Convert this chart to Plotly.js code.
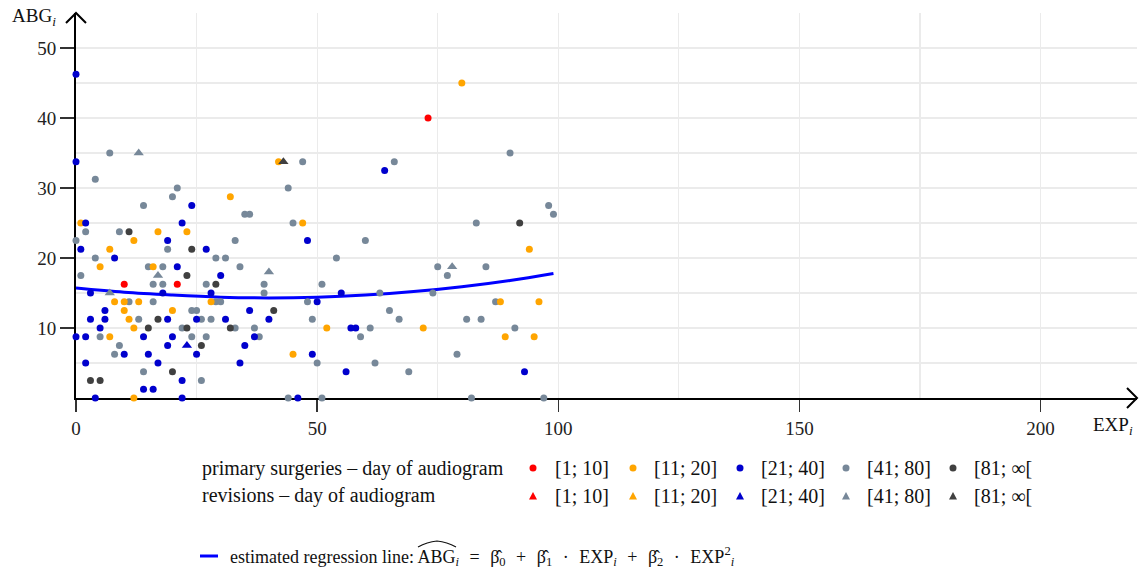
<!DOCTYPE html>
<html>
<head>
<meta charset="utf-8">
<script src="https://cdn.plot.ly/plotly-3.0.1.min.js"></script>
<style>html,body{margin:0;padding:0;background:#fff;}#chart{width:1142px;height:572px;}</style>
</head>
<body>
<div id="chart"></div>
<script>
// ---------------- data ----------------
// primary surgeries, day of audiogram [1; 10]
var p1_x = [10, 21, 73];
var p1_y = [16.25, 16.25, 40];
// primary [11; 20]
var p2_x = [1, 5, 7, 12, 16, 17, 23, 8, 10, 13, 10, 20, 11, 12, 7, 12, 28, 32, 42, 47, 45, 52, 72, 80, 88, 96, 89, 95, 94];
var p2_y = [25, 18.75, 21.25, 22.5, 18.75, 23.75, 23.75, 13.75, 13.75, 13.75, 12.5, 12.5, 11.25, 10, 8.75, 0, 13.75, 28.75, 33.75, 25, 6.25, 10, 10, 45, 13.75, 13.75, 8.75, 8.75, 21.25];
// primary [21; 40]
var p3_x = [0, 0, 2, 22, 24, 19, 1, 8, 21, 3, 18, 6, 3, 6, 19, 5, 0, 2, 14, 20, 19, 10, 15, 2, 17, 14, 16, 4, 22, 27, 30, 28, 36, 25, 31, 40, 37, 35, 25, 34, 22, 46, 48, 64, 55, 50, 57, 58, 49, 56, 93];
var p3_y = [46.25, 33.75, 25, 25, 27.5, 22.5, 21.25, 20, 18.75, 15, 15, 12.5, 11.25, 11.25, 11.25, 10, 8.75, 8.75, 8.75, 8.75, 7.5, 6.25, 6.25, 5, 5, 1.25, 1.25, 0, 0, 21.25, 17.5, 15, 12.5, 11.25, 11.25, 11.25, 8.75, 7.5, 6.25, 5, 2.5, 0, 22.5, 32.5, 15, 13.75, 10, 10, 6.25, 3.75, 3.75];
// primary [41; 80]
var p4_x = [7, 0, 4, 21, 20, 14, 2, 9, 19, 4, 15, 18, 1, 16, 18, 11, 16, 13, 22, 5, 9, 8, 14, 24, 25, 47, 44, 35, 36, 45, 33, 29, 31, 34, 27, 39, 39, 29, 30, 48, 26, 28, 33, 37, 24, 27, 38, 26, 44, 66, 60, 54, 51, 63, 65, 49, 67, 61, 59, 50, 62, 69, 51, 90, 98, 99, 83, 75, 85, 77, 74, 87, 81, 84, 91, 79, 82, 97];
var p4_y = [35, 22.5, 31.25, 30, 28.75, 27.5, 23.75, 23.75, 21.25, 20, 18.75, 18.75, 17.5, 16.25, 16.25, 13.75, 13.75, 11.25, 10, 8.75, 7.5, 6.25, 3.75, 12.5, 12.5, 33.75, 30, 26.25, 26.25, 25, 22.5, 20, 20, 18.75, 16.25, 16.25, 15, 13.75, 13.75, 13.75, 11.25, 11.25, 10, 10, 8.75, 8.75, 8.75, 2.5, 0, 33.75, 22.5, 20, 16.25, 15, 12.5, 11.25, 11.25, 10, 8.75, 5, 5, 3.75, 0, 35, 27.5, 26.25, 25, 18.75, 18.75, 17.5, 15, 13.75, 11.25, 11.25, 10, 6.25, 0, 0];
// primary [81; inf[
var p5_x = [11, 24, 23, 17, 15, 23, 20, 3, 5, 29, 41, 32, 26, 92];
var p5_y = [23.75, 21.25, 17.5, 11.25, 10, 10, 3.75, 2.5, 2.5, 16.25, 12.5, 10, 7.5, 25];
// revisions [21; 40]
var r3_x = [23];
var r3_y = [7.5];
// revisions [41; 80]
var r4_x = [13, 17, 7, 40, 78];
var r4_y = [35, 17.5, 15, 18, 18.75];
// revisions [81; inf[
var r5_x = [43];
var r5_y = [33.75];
// estimated regression line
var reg_x = [0, 10, 20, 30, 40, 50, 60, 70, 80, 90, 99];
var reg_y = [15.7, 15.1, 14.7, 14.4, 14.3, 14.4, 14.7, 15.2, 15.9, 16.8, 17.8];
// legend labels
var groupLabels = ['[1; 10]', '[11; 20]', '[21; 40]', '[41; 80]', '[81; \u221e['];
var xTicks = [0, 50, 100, 150, 200];
var yTicks = [10, 20, 30, 40, 50];
var refLine = 10;

// ---------------- styles ----------------
var colors = ['#ff0000', '#ffa500', '#0000cd', '#778899', '#404040'];
var FONT = '"Liberation Serif", "Times New Roman", serif';
var FS = 19;

// plot area in pixels
var W = 1142, H = 572;
var L = 76, R = 5, T = 13, B = 174;
var PW = W - L - R, PH = H - T - B;
function px(x) { return (x - L) / PW; }
function py(y) { return (H - B - y) / PH; }

function pts(x, y, color, sym) {
  return {x: x, y: y, type: 'scatter', mode: 'markers', cliponaxis: false, showlegend: false,
    hoverinfo: 'skip',
    marker: {color: color, size: sym === 'triangle-up' ? 9 : 7, symbol: sym, line: {width: 0}}};
}

var data = [
  {x: reg_x, y: reg_y, type: 'scatter', mode: 'lines', line: {color: '#0000ff', width: 3, shape: 'spline'}, showlegend: false, hoverinfo: 'skip'},
  pts(p4_x, p4_y, colors[3], 'circle'),
  pts(p5_x, p5_y, colors[4], 'circle'),
  pts(p2_x, p2_y, colors[1], 'circle'),
  pts(p3_x, p3_y, colors[2], 'circle'),
  pts(p1_x, p1_y, colors[0], 'circle'),
  pts(r4_x, r4_y, colors[3], 'triangle-up'),
  pts(r3_x, r3_y, colors[2], 'triangle-up'),
  pts(r5_x, r5_y, colors[4], 'triangle-up')
];

var shapes = [
  {type: 'line', xref: 'x', yref: 'y', x0: 0, x1: 220, y0: refLine, y1: refLine, layer: 'below',
   line: {color: '#000', width: 2.2, dash: '14px,8px'}},
  // arrow heads
  {type: 'path', xref: 'paper', yref: 'paper', xsizemode: 'pixel', ysizemode: 'pixel', xanchor: 0, yanchor: 1,
   path: 'M -10,-10 L 0,0 L 10,-10', line: {color: '#000', width: 2}},
  {type: 'path', xref: 'paper', yref: 'paper', xsizemode: 'pixel', ysizemode: 'pixel', xanchor: 1, yanchor: 0,
   path: 'M -10,10 L 0,0 L -10,-10', line: {color: '#000', width: 2}},
  // wide hat over ABG in the regression formula
  {type: 'path', xref: 'paper', yref: 'paper', xsizemode: 'pixel', ysizemode: 'pixel', xanchor: px(437), yanchor: py(545),
   path: 'M -19,-2 Q -10,3 0,4 Q 10,3 19,-2', line: {color: '#111', width: 1.2}}
];

var SP = '\u2004';
var annotations = [
  {xref: 'paper', yref: 'paper', x: px(10), y: py(17), xanchor: 'left', yanchor: 'middle', showarrow: false,
   text: 'ABG<sub><i>i</i></sub>', font: {family: FONT, size: FS, color: '#111'}},
  {xref: 'paper', yref: 'paper', x: px(1091), y: py(426), xanchor: 'left', yanchor: 'middle', showarrow: false,
   text: 'EXP<sub><i>i</i></sub>', font: {family: FONT, size: FS, color: '#111'}},
  {xref: 'paper', yref: 'paper', x: px(200), y: py(468), xanchor: 'left', yanchor: 'middle', showarrow: false,
   text: 'primary surgeries \u2013 day of audiogram', font: {family: FONT, size: 20, color: '#111'}},
  {xref: 'paper', yref: 'paper', x: px(200), y: py(496), xanchor: 'left', yanchor: 'middle', showarrow: false,
   text: 'revisions \u2013 day of audiogram', font: {family: FONT, size: 20, color: '#111'}},
  {xref: 'paper', yref: 'paper', x: px(228), y: py(556), xanchor: 'left', yanchor: 'middle', showarrow: false,
   text: 'estimated regression line: ABG<sub><i>i</i></sub> ' + SP + '= ' + SP + '\u03b2\u0302<sub>0</sub> ' + SP + '+ ' + SP +
         '\u03b2\u0302<sub>1</sub> ' + SP + '\u00b7 ' + SP + 'EXP<sub><i>i</i></sub> ' + SP + '+ ' + SP +
         '\u03b2\u0302<sub>2</sub> ' + SP + '\u00b7 ' + SP + 'EXP<sup>2</sup><sub><i>i</i></sub>',
   font: {family: FONT, size: 18, color: '#111'}}
];

var markX = [533, 633, 740, 846, 953];
var labX = [553, 652, 759, 865, 972];
for (var i = 0; i < 5; i++) {
  shapes.push({type: 'circle', xref: 'paper', yref: 'paper', xsizemode: 'pixel', ysizemode: 'pixel',
    xanchor: px(markX[i]), yanchor: py(468), x0: -3.5, x1: 3.5, y0: -3.5, y1: 3.5,
    fillcolor: colors[i], line: {width: 0}});
  shapes.push({type: 'path', xref: 'paper', yref: 'paper', xsizemode: 'pixel', ysizemode: 'pixel',
    xanchor: px(markX[i]), yanchor: py(496), path: 'M -4,-3.5 L 4,-3.5 L 0,4 Z',
    fillcolor: colors[i], line: {width: 0}});
  annotations.push({xref: 'paper', yref: 'paper', x: px(labX[i]), y: py(468), xanchor: 'left', yanchor: 'middle',
    showarrow: false, text: groupLabels[i], font: {family: FONT, size: 20, color: '#111'}});
  annotations.push({xref: 'paper', yref: 'paper', x: px(labX[i]), y: py(496), xanchor: 'left', yanchor: 'middle',
    showarrow: false, text: groupLabels[i], font: {family: FONT, size: 20, color: '#111'}});
}
// regression legend line
shapes.push({type: 'line', xref: 'paper', yref: 'paper', x0: px(200), x1: px(218), y0: py(556), y1: py(556),
  line: {color: '#0000ff', width: 3}});

var layout = {
  width: W, height: H,
  margin: {l: L, r: R, t: T, b: B, pad: 0},
  paper_bgcolor: '#fff', plot_bgcolor: '#fff',
  showlegend: false,
  xaxis: {range: [0, 220], tickvals: xTicks, ticktext: xTicks.map(String), ticks: 'outside', ticklen: 12,
    tickwidth: 1.5, tickcolor: '#333', showline: true, linecolor: '#000', linewidth: 2, zeroline: false,
    showgrid: true, gridcolor: '#ebebeb', gridwidth: 1.2, layer: 'below traces',
    minor: {dtick: 25, tick0: 0, showgrid: true, gridcolor: '#ebebeb', gridwidth: 1.2, ticks: ''},
    tickfont: {family: FONT, size: FS, color: '#222'}, fixedrange: true},
  yaxis: {range: [0, 55], tickvals: yTicks, ticktext: yTicks.map(String), ticks: 'outside', ticklen: 14,
    tickwidth: 1.5, tickcolor: '#333', showline: true, linecolor: '#000', linewidth: 2, zeroline: false,
    showgrid: true, gridcolor: '#ebebeb', gridwidth: 1.2, layer: 'below traces',
    minor: {dtick: 5, tick0: 0, showgrid: true, gridcolor: '#ebebeb', gridwidth: 1.2, ticks: ''},
    tickfont: {family: FONT, size: FS, color: '#222'}, fixedrange: true},
  shapes: shapes,
  annotations: annotations
};

Plotly.newPlot('chart', data, layout, {displayModeBar: false, staticPlot: true});
</script>
</body>
</html>
